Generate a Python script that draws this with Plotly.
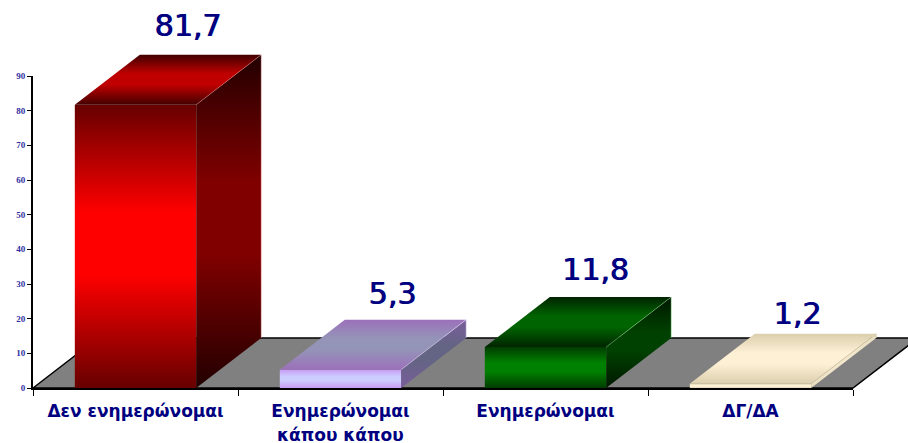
import plotly.graph_objects as go

categories = ["Δεν ενημερώνομαι", "Ενημερώνομαι", "Ενημερώνομαι", "ΔΓ/ΔΑ"]
second_lines = ["", "κάπου κάπου", "", ""]
values = [81.7, 5.3, 11.8, 1.2]
value_labels = ["81,7", "5,3", "11,8", "1,2"]
y_ticks = [0, 10, 20, 30, 40, 50, 60, 70, 80, 90]

# gradient pairs per bar: (edge colour, centre colour)
front_cols = [("#660000", "#ff0000"), ("#c79bf2", "#ccccff"), ("#003c00", "#008000"), ("#e0d4b4", "#fff2d6")]
top_cols = [("#420000", "#c00000"), ("#9c70ba", "#9494b8"), ("#002400", "#006400"), ("#dccfae", "#fdf0d4")]
side_cols = [("#220000", "#800000"), ("#7a5c9c", "#646484"), ("#001800", "#004000"), ("#e6dbbf", "#f4e8cc")]
edge_cols = ["rgba(255,170,170,0.35)", "rgba(235,225,255,0.5)", "rgba(170,255,170,0.35)", "rgba(200,190,160,0.7)"]

# hand placement of the value labels relative to each bar, in pixels
label_shift_x = [1.5, 1, -1, -4]
label_shift_y = [11, 8, 10, 2]

W, H = 908, 443
L, R, T, B = 33, 853, 76, 388      # pixel box of the visible axes
n = len(categories)
PX_X = (R - L) / n                 # px per category
PX_Y = (B - T) / 90                # px per value unit
DX = 65 / PX_X                     # oblique depth in category units
DY = 50 / PX_Y                     # oblique depth in value units
BW = 0.592
GAP = 0.204
NAVY = "#000080"

fig = go.Figure()


def poly(xs, ys, cols):
    a, b = cols
    fig.add_trace(go.Scatter(
        x=xs + xs[:1], y=ys + ys[:1], mode="lines", fill="toself",
        line=dict(width=0), hoverinfo="skip", showlegend=False,
        fillgradient=dict(type="vertical", colorscale=[[0, a], [0.4, b], [0.62, b], [1, a]]),
    ))


# floor
fig.add_trace(go.Scatter(
    x=[0, n, n + DX, DX, 0], y=[0, 0, DY, DY, 0], mode="lines", fill="toself",
    fillcolor="#808080", line=dict(color="black", width=1.5),
    hoverinfo="skip", showlegend=False,
))

for i, v in enumerate(values):
    x0, x1 = i + GAP, i + GAP + BW
    poly([x0, x1, x1, x0], [0, 0, v, v], front_cols[i])
    poly([x1, x1 + DX, x1 + DX, x1], [0, DY, v + DY, v], side_cols[i])
    poly([x0, x1, x1 + DX, x0 + DX], [v, v, v + DY, v + DY], top_cols[i])
    fig.add_trace(go.Scatter(
        x=[x1, x1 + DX, x1 + DX], y=[v, v + DY, DY], mode="lines",
        line=dict(color=edge_cols[i], width=1),
        hoverinfo="skip", showlegend=False,
    ))

fig.add_trace(go.Scatter(
    x=[i + GAP + BW / 2 + DX * 0.78 + label_shift_x[i] / PX_X for i in range(n)],
    y=[v + DY + label_shift_y[i] / PX_Y for i, v in enumerate(values)],
    mode="text", text=value_labels, textposition="top center",
    textfont=dict(family="DejaVu Sans", size=30, color=NAVY, shadow="1px 0 0 #000080"),
    hoverinfo="skip", showlegend=False,
))

# invisible trace that keeps the visible axes alive
fig.add_trace(go.Scatter(x=[0, n], y=[0, 90], xaxis="x2", yaxis="y2", mode="markers",
                         marker=dict(opacity=0), hoverinfo="skip", showlegend=False))

for i, t in enumerate(second_lines):
    if t:
        fig.add_annotation(
            x=i + 0.5, y=0, xref="x2", yref="y2", yshift=-47, yanchor="middle",
            text=t, showarrow=False,
            font=dict(family="DejaVu Sans", size=17, color=NAVY, weight="bold"),
        )

fig.update_layout(
    width=W, height=H, autosize=False,
    margin=dict(l=0, r=0, t=0, b=0, pad=0, autoexpand=False),
    paper_bgcolor="white", plot_bgcolor="rgba(0,0,0,0)",
    showlegend=False,
    xaxis=dict(range=[-L / PX_X, (W - L) / PX_X], domain=[0, 1], visible=False),
    yaxis=dict(range=[-(H - B) / PX_Y, B / PX_Y], domain=[0, 1], visible=False),
    xaxis2=dict(
        domain=[L / W, R / W], anchor="y2",
        range=[0, n], showgrid=False, zeroline=False, showline=True,
        linecolor="black", linewidth=2, ticks="", ticklen=0,
        tickmode="array", tickvals=[i + 0.5 for i in range(n)], ticktext=categories,
        tickfont=dict(family="DejaVu Sans", size=17, color=NAVY, weight="bold"),
        ticklabelstandoff=7,
        minor=dict(tickmode="array", tickvals=list(range(n + 1)), ticks="outside",
                   ticklen=6, tickwidth=1, tickcolor="black", showgrid=False),
    ),
    yaxis2=dict(
        domain=[(H - B) / H, (H - T) / H], anchor="x2",
        range=[0, 90], showgrid=False, zeroline=False, showline=True,
        linecolor="black", linewidth=2, ticks="outside", ticklen=4, tickwidth=1,
        tickcolor="black", tickmode="array", tickvals=y_ticks,
        tickfont=dict(family="Liberation Serif", size=9, color="#3030a0", weight="bold"),
    ),
)

fig.write_html("out.html", config={"displayModeBar": False},
               post_script="document.body.style.margin='0';")
